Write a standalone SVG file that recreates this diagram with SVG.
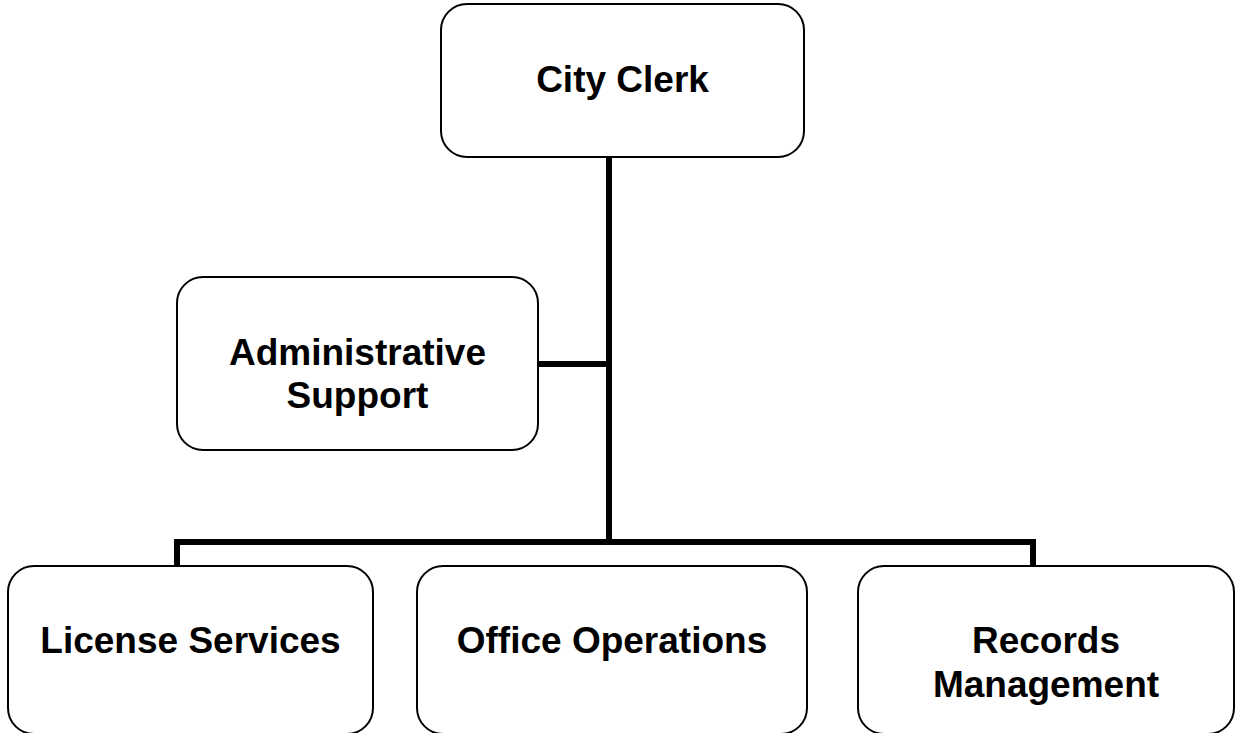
<svg xmlns="http://www.w3.org/2000/svg" width="1236" height="733" viewBox="0 0 1236 733">
  <style>
    .box { fill: #ffffff; stroke: #000000; stroke-width: 2; }
    .label { font-family: "Liberation Sans", Arial, sans-serif; font-weight: bold; font-size: 37px; fill: #000000; text-anchor: middle; }
    .wire { fill: none; stroke: #000000; stroke-width: 6; stroke-linecap: butt; stroke-linejoin: miter; }
  </style>
  <rect width="1236" height="733" fill="#ffffff"/>

  <!-- connectors -->
  <g id="connectors">
    <path class="wire" d="M609 157 V542"/>
    <path class="wire" d="M538 364 H609"/>
    <path class="wire" d="M177 566 V542 H1033 V566"/>
  </g>

  <g id="city-clerk">
    <rect class="box" x="441" y="4" width="363" height="153" rx="26" ry="26"/>
    <text class="label" x="622.5" y="92">City Clerk</text>
  </g>

  <g id="administrative-support">
    <rect class="box" x="177" y="277" width="361" height="173" rx="26" ry="26"/>
    <text class="label" x="357.5" y="365">Administrative</text>
    <text class="label" x="357.5" y="408">Support</text>
  </g>

  <g id="license-services">
    <rect class="box" x="8" y="566" width="365" height="168" rx="26" ry="26"/>
    <text class="label" x="190.5" y="653">License Services</text>
  </g>

  <g id="office-operations">
    <rect class="box" x="417" y="566" width="390" height="168" rx="26" ry="26"/>
    <text class="label" x="612" y="653">Office Operations</text>
  </g>

  <g id="records-management">
    <rect class="box" x="858" y="566" width="376" height="168" rx="26" ry="26"/>
    <text class="label" x="1046" y="653">Records</text>
    <text class="label" x="1046" y="697">Management</text>
  </g>
</svg>
